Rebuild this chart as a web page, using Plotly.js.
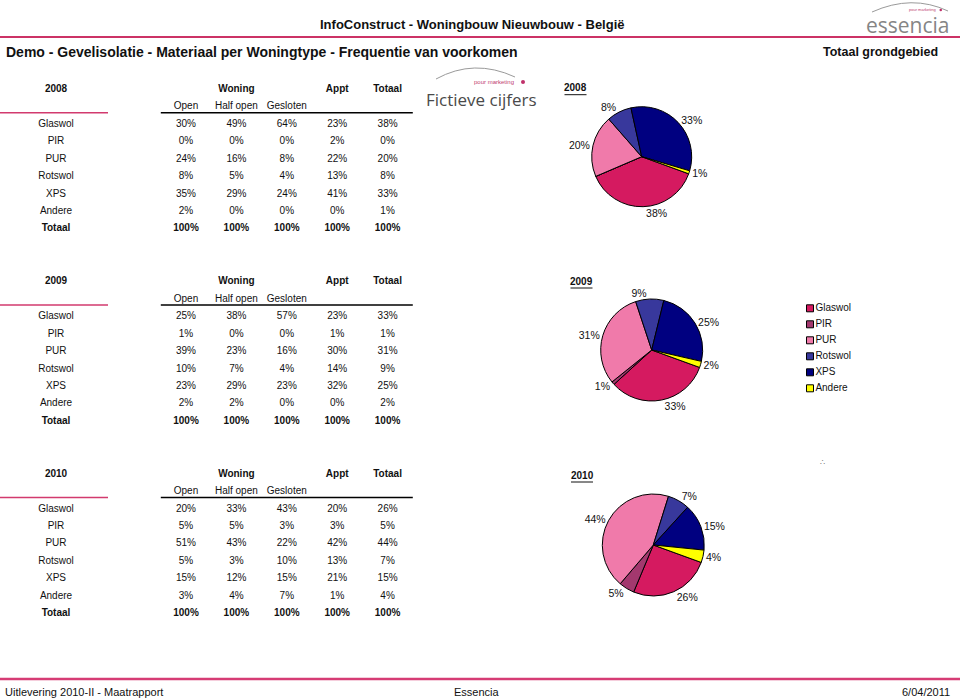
<!DOCTYPE html>
<html>
<head>
<meta charset="utf-8">
<script src="https://cdn.plot.ly/plotly-3.0.1.min.js"></script>
<style>html,body{margin:0;padding:0;background:#fff;}#chart{width:960px;height:700px;}</style>
</head>
<body>
<div id="chart"></div>
<script>
// ---------------- DATA ----------------
const materials = ['Glaswol', 'PIR', 'PUR', 'Rotswol', 'XPS', 'Andere'];
const columns = ['Open', 'Half open', 'Gesloten', 'Appt', 'Totaal'];
const years = ['2008', '2009', '2010'];

// rows = materials, columns = Open, Half open, Gesloten, Appt, Totaal (in %)
const values2008 = [[30, 49, 64, 23, 38], [0, 0, 0, 2, 0], [24, 16, 8, 22, 20], [8, 5, 4, 13, 8], [35, 29, 24, 41, 33], [2, 0, 0, 0, 1]];
const values2009 = [[25, 38, 57, 23, 33], [1, 0, 0, 1, 1], [39, 23, 16, 30, 31], [10, 7, 4, 14, 9], [23, 29, 23, 32, 25], [2, 2, 0, 0, 2]];
const values2010 = [[20, 33, 43, 20, 26], [5, 5, 3, 3, 5], [51, 43, 22, 42, 44], [5, 3, 10, 13, 7], [15, 12, 15, 21, 15], [3, 4, 7, 1, 4]];
const totals2008 = [100, 100, 100, 100, 100];
const totals2009 = [100, 100, 100, 100, 100];
const totals2010 = [100, 100, 100, 100, 100];

const colors = ['#D51A60', '#A3386E', '#F07AAA', '#38389C', '#000080', '#FFFF00'];

// ---------------- HELPERS ----------------
const W = 960, H = 700;
const px = x => x / W;
const py = y => 1 - y / H;
const FONT = 'Liberation Sans, Arial, sans-serif';
const yCats = ['h1', 'h2'].concat(materials).concat(['Totaal']);

const tables = [
  {year: years[0], vals: values2008, tot: totals2008},
  {year: years[1], vals: values2009, tot: totals2009},
  {year: years[2], vals: values2010, tot: totals2010}
];

const traces = [];
const shapes = [];
const layout = {
  width: W, height: H,
  margin: {l: 0, r: 0, t: 0, b: 0},
  paper_bgcolor: '#fff', plot_bgcolor: 'rgba(0,0,0,0)',
  showlegend: false,
  font: {family: FONT, size: 10, color: '#000'},
  xaxis: {domain: [px(160.8), px(412.8)], type: 'category', categoryorder: 'array', categoryarray: columns, range: [-0.5, 4.5], visible: false, fixedrange: true, anchor: 'y'},
  xaxis2: {domain: [0, px(112)], type: 'category', categoryorder: 'array', categoryarray: ['lbl'], range: [-0.5, 0.5], visible: false, fixedrange: true, anchor: 'y'},
  xaxis3: {domain: [px(806), px(814)], range: [-1, 1], visible: false, fixedrange: true, anchor: 'y4'},
  yaxis4: {domain: [py(396.3), py(300.3)], type: 'category', categoryorder: 'array', categoryarray: materials, range: [5.5, -0.5], visible: false, fixedrange: true, anchor: 'x3'},
  annotations: [],
  shapes: shapes
};

const step = 192.4;
tables.forEach((t, k) => {
  const ya = k === 0 ? 'y' : 'y' + (k + 1);
  const yKey = k === 0 ? 'yaxis' : 'yaxis' + (k + 1);
  const top = 80.6 + step * k, bot = 237.7 + step * k;
  layout[yKey] = {domain: [py(bot), py(top)], type: 'category', categoryorder: 'array', categoryarray: yCats, range: [8.5, -0.5], visible: false, fixedrange: true, anchor: 'x'};

  // value cells
  const xs = [], ys = [], tx = [];
  t.vals.forEach((row, i) => row.forEach((v, j) => { xs.push(columns[j]); ys.push(materials[i]); tx.push(v + '%'); }));
  t.tot.forEach((v, j) => { xs.push(columns[j]); ys.push('Totaal'); tx.push('<b>' + v + '%</b>'); });
  traces.push({type: 'scatter', mode: 'text', x: xs, y: ys, text: tx, xaxis: 'x', yaxis: ya, cliponaxis: false, hoverinfo: 'skip', textfont: {family: FONT, size: 10, color: '#111'}});

  // header row
  traces.push({type: 'scatter', mode: 'text', x: ['Half open', 'Appt', 'Totaal'], y: ['h1', 'h1', 'h1'], text: ['<b>Woning</b>', '<b>Appt</b>', '<b>Totaal</b>'], xaxis: 'x', yaxis: ya, cliponaxis: false, hoverinfo: 'skip', textfont: {family: FONT, size: 10, color: '#111'}});
  traces.push({type: 'scatter', mode: 'text', x: columns.slice(0, 3), y: ['h2', 'h2', 'h2'], text: columns.slice(0, 3), xaxis: 'x', yaxis: ya, cliponaxis: false, hoverinfo: 'skip', textfont: {family: FONT, size: 10, color: '#111'}});

  // row labels + year
  const lx = [], ly = [], lt = [];
  lx.push('lbl'); ly.push('h1'); lt.push('<b>' + t.year + '</b>');
  materials.forEach(m => { lx.push('lbl'); ly.push(m); lt.push(m); });
  lx.push('lbl'); ly.push('Totaal'); lt.push('<b>Totaal</b>');
  traces.push({type: 'scatter', mode: 'text', x: lx, y: ly, text: lt, xaxis: 'x2', yaxis: ya, cliponaxis: false, hoverinfo: 'skip', textfont: {family: FONT, size: 10, color: '#111'}});

  // lines under header
  shapes.push({type: 'line', xref: 'x domain', yref: ya, x0: 0, x1: 1, y0: 1.34, y1: 1.34, line: {color: '#000', width: 1.5}});
  shapes.push({type: 'line', xref: 'paper', yref: ya, x0: 0, x1: px(108), y0: 1.34, y1: 1.34, line: {color: '#D23A6E', width: 1.5}});
});

// ---------------- PIES ----------------
const pieGeo = [
  {cx: 641.7, cy: 156.7, r: 50, lx: 575.5, ly: 87.7},
  {cx: 651.7, cy: 350, r: 51, lx: 581.5, ly: 281},
  {cx: 653.3, cy: 545, r: 51, lx: 582, ly: 475}
];
tables.forEach((t, k) => {
  const g = pieGeo[k];
  const tot = t.vals.map(r => r[4]);
  traces.push({
    type: 'pie', values: tot, labels: materials, sort: false, direction: 'clockwise', rotation: 110,
    marker: {colors: colors, line: {color: '#000', width: 1}},
    text: tot.map(v => v > 0 ? v + '%' : ''), texttemplate: '%{text}', textinfo: 'text',
    textposition: 'outside', textfont: {family: FONT, size: 10.5, color: '#111'},
    hoverinfo: 'label+value', showlegend: false,
    domain: {x: [px(g.cx - g.r), px(g.cx + g.r)], y: [py(g.cy + g.r), py(g.cy - g.r)]}
  });
  layout.annotations.push({xref: 'paper', yref: 'paper', x: px(g.lx), y: py(g.ly), text: '<b>' + t.year + '</b>', showarrow: false, font: {family: FONT, size: 10, color: '#111'}, xanchor: 'center', yanchor: 'middle'});
  shapes.push({type: 'line', xref: 'paper', yref: 'paper', x0: px(g.lx - 11), x1: px(g.lx + 11), y0: py(g.ly + 7), y1: py(g.ly + 7), line: {color: '#111', width: 1}});
});

// ---------------- LEGEND ----------------
traces.push({
  type: 'scatter', mode: 'markers+text', x: materials.map(() => 0), y: materials, text: materials,
  textposition: 'middle right', xaxis: 'x3', yaxis: 'y4', cliponaxis: false, hoverinfo: 'skip',
  marker: {symbol: 'square', size: 7, color: colors, line: {color: '#000', width: 1}},
  textfont: {family: FONT, size: 10, color: '#111'}
});

// ---------------- HEADER / FOOTER ----------------
const ann = layout.annotations;
ann.push({xref: 'paper', yref: 'paper', x: px(472), y: py(25), text: '<b>InfoConstruct - Woningbouw Nieuwbouw - België</b>', showarrow: false, font: {family: FONT, size: 13, color: '#111'}, xanchor: 'center', yanchor: 'middle'});
ann.push({xref: 'paper', yref: 'paper', x: px(4), y: py(52), text: '<b>Demo - Gevelisolatie - Materiaal per Woningtype - Frequentie van voorkomen</b>', showarrow: false, font: {family: FONT, size: 14, color: '#111'}, xanchor: 'left', yanchor: 'middle'});
ann.push({xref: 'paper', yref: 'paper', x: px(940), y: py(52), text: '<b>Totaal grondgebied</b>', showarrow: false, font: {family: FONT, size: 12.5, color: '#111'}, xanchor: 'right', yanchor: 'middle'});
shapes.push({type: 'line', xref: 'paper', yref: 'paper', x0: 0, x1: 1, y0: py(37), y1: py(37), line: {color: '#CC3366', width: 2}});
shapes.push({type: 'line', xref: 'paper', yref: 'paper', x0: 0, x1: 1, y0: py(679), y1: py(679), line: {color: '#D63C74', width: 2.5}});
ann.push({xref: 'paper', yref: 'paper', x: px(3), y: py(692), text: 'Uitlevering 2010-II - Maatrapport', showarrow: false, font: {family: FONT, size: 11, color: '#111'}, xanchor: 'left', yanchor: 'middle'});
ann.push({xref: 'paper', yref: 'paper', x: px(477), y: py(692), text: 'Essencia', showarrow: false, font: {family: FONT, size: 11, color: '#111'}, xanchor: 'center', yanchor: 'middle'});
ann.push({xref: 'paper', yref: 'paper', x: px(952), y: py(692), text: '6/04/2011', showarrow: false, font: {family: FONT, size: 11, color: '#111'}, xanchor: 'right', yanchor: 'middle'});

// essencia logo
ann.push({xref: 'paper', yref: 'paper', x: px(908), y: py(25), text: 'essencia', showarrow: false, font: {family: 'Open Sans, sans-serif', size: 21, color: '#858585'}, xanchor: 'center', yanchor: 'middle', borderpad: 0});
ann.push({xref: 'paper', yref: 'paper', x: px(937), y: py(10), text: 'pour marketing', showarrow: false, font: {family: FONT, size: 4, color: '#C04070'}, xanchor: 'right', yanchor: 'middle', borderpad: 0});
shapes.push({type: 'path', xref: 'paper', yref: 'paper', path: 'M ' + px(872) + ' ' + py(12) + ' Q ' + px(912) + ' ' + py(-6) + ' ' + px(948) + ' ' + py(11), line: {color: '#9a9a9a', width: 1}});
shapes.push({type: 'circle', xref: 'paper', yref: 'paper', x0: px(939.5), x1: px(942), y0: py(11.3), y1: py(8.8), fillcolor: '#C0306A', line: {width: 0}});

// Fictieve cijfers logo
ann.push({xref: 'paper', yref: 'paper', x: px(481), y: py(99), text: 'Fictieve cijfers', showarrow: false, font: {family: 'Open Sans, sans-serif', size: 17, color: '#4a4a4a'}, xanchor: 'center', yanchor: 'middle', borderpad: 0});
ann.push({xref: 'paper', yref: 'paper', x: px(515), y: py(82), text: 'pour marketing', showarrow: false, font: {family: FONT, size: 6, color: '#C04070'}, xanchor: 'right', yanchor: 'middle', borderpad: 0});
shapes.push({type: 'path', xref: 'paper', yref: 'paper', path: 'M ' + px(436) + ' ' + py(79) + ' Q ' + px(474) + ' ' + py(58) + ' ' + px(515) + ' ' + py(77), line: {color: '#9a9a9a', width: 1}});
shapes.push({type: 'circle', xref: 'paper', yref: 'paper', x0: px(521), x1: px(525), y0: py(84), y1: py(80), fillcolor: '#C0306A', line: {width: 0}});

ann.push({xref: 'paper', yref: 'paper', x: px(822), y: py(462), text: '∴', showarrow: false, font: {family: FONT, size: 8, color: '#777'}, xanchor: 'center', yanchor: 'middle'});

Plotly.newPlot('chart', traces, layout, {staticPlot: true, displayModeBar: false});
</script>
</body>
</html>
